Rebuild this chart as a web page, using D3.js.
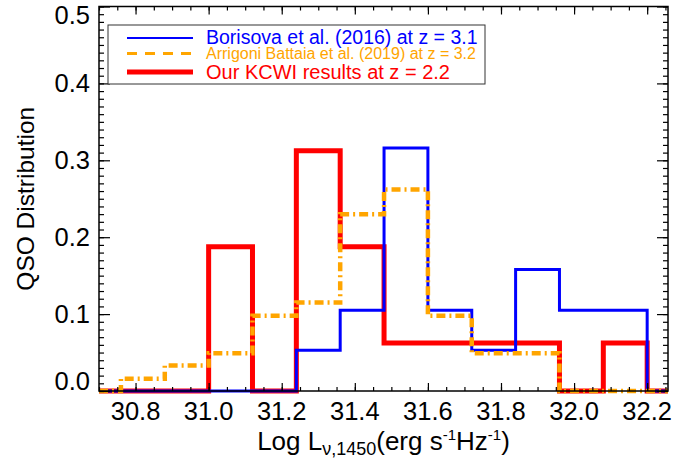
<!DOCTYPE html>
<html>
<head>
<meta charset="utf-8">
<script src="https://cdn.jsdelivr.net/npm/d3@7"></script>
<style>
  html, body { margin: 0; padding: 0; background: #fff; }
  svg { display: block; font-family: "Liberation Sans", Arial, Helvetica, sans-serif; }
</style>
</head>
<body>
<svg id="chart" width="689" height="458"></svg>
<script>
// Histogram bins: left edges, common width
const binStarts = [30.76, 30.88, 31.00, 31.12, 31.24, 31.36, 31.48, 31.60, 31.72, 31.84, 31.96, 32.08];
const binWidth = 0.12;

// Fraction of QSOs per luminosity bin
const borisova = [0, 0, 0, 0, 0.053, 0.105, 0.316, 0.105, 0.053, 0.158, 0.105, 0.105];
const arrigoni = [0.016, 0.033, 0.049, 0.098, 0.115, 0.230, 0.262, 0.098, 0.049, 0.049, 0, 0];
const kcwi     = [0, 0, 0.1875, 0, 0.3125, 0.1875, 0.0625, 0.0625, 0.0625, 0.0625, 0, 0.0625];

// Axis ticks
const xTicks = [30.8, 31.0, 31.2, 31.4, 31.6, 31.8, 32.0, 32.2];
const yTicks = [0.0, 0.1, 0.2, 0.3, 0.4, 0.5];

const legendLabels = [
  "Borisova et al. (2016) at z = 3.1",
  "Arrigoni Battaia et al. (2019) at z = 3.2",
  "Our KCWI results at z = 2.2"
];

const svg = d3.select("#chart");
const plotL = 99, plotR = 668, plotT = 6.5, plotB = 391;
const xDomain = [30.7, 32.257];
const x = d3.scaleLinear().domain(xDomain).range([plotL, plotR]);
const y = d3.scaleLinear().domain([0, 0.5]).range([plotB, plotT]);

// Step outline of a histogram across the full x range
function stepPoints(vals) {
  const pts = [[xDomain[0], 0]];
  binStarts.forEach((b, i) => pts.push([b, vals[i]]));
  pts.push([binStarts[binStarts.length - 1] + binWidth, 0]);
  pts.push([xDomain[1], 0]);
  return pts;
}
const line = d3.line().x(d => x(d[0])).y(d => y(d[1])).curve(d3.curveStepAfter);

const series = [
  { vals: kcwi, color: "#ff0000", width: 5, dash: null },
  { vals: borisova, color: "#0000ff", width: 3, dash: null },
  { vals: arrigoni, color: "#ffa500", width: 4.5, dash: "9,4,2,4" }
];
series.forEach(s => {
  svg.append("path")
    .attr("d", line(stepPoints(s.vals)))
    .attr("fill", "none")
    .attr("stroke", s.color)
    .attr("stroke-width", s.width)
    .attr("stroke-dasharray", s.dash)
    .attr("stroke-linejoin", "miter");
});

// Frame with inward ticks on all four sides
const axisG = svg.append("g");
const xMinor = d3.range(30.7, 32.26, 0.05).filter(v => v >= xDomain[0] - 1e-9 && v <= xDomain[1]);
const yMinor = d3.range(0, 0.5001, 0.01);

function tickLines(g) {
  g.selectAll(".domain").remove();
  g.selectAll("text").remove();
  g.selectAll("line").attr("stroke", "#000").attr("stroke-width", 1.2);
}
// bottom
axisG.append("g").attr("transform", `translate(0,${plotB})`)
  .call(d3.axisTop(x).tickValues(xMinor).tickSize(4)).call(tickLines);
axisG.append("g").attr("transform", `translate(0,${plotB})`)
  .call(d3.axisTop(x).tickValues(xTicks).tickSize(8)).call(tickLines);
// top
axisG.append("g").attr("transform", `translate(0,${plotT})`)
  .call(d3.axisBottom(x).tickValues(xMinor).tickSize(4)).call(tickLines);
axisG.append("g").attr("transform", `translate(0,${plotT})`)
  .call(d3.axisBottom(x).tickValues(xTicks).tickSize(8)).call(tickLines);
// left
axisG.append("g").attr("transform", `translate(${plotL},0)`)
  .call(d3.axisRight(y).tickValues(yMinor).tickSize(5)).call(tickLines);
axisG.append("g").attr("transform", `translate(${plotL},0)`)
  .call(d3.axisRight(y).tickValues(yTicks).tickSize(11)).call(tickLines);
// right
axisG.append("g").attr("transform", `translate(${plotR},0)`)
  .call(d3.axisLeft(y).tickValues(yMinor).tickSize(5)).call(tickLines);
axisG.append("g").attr("transform", `translate(${plotR},0)`)
  .call(d3.axisLeft(y).tickValues(yTicks).tickSize(11)).call(tickLines);

svg.append("rect")
  .attr("x", plotL).attr("y", plotT)
  .attr("width", plotR - plotL).attr("height", plotB - plotT)
  .attr("fill", "none").attr("stroke", "#000").attr("stroke-width", 1.5);

// Tick labels
svg.append("g").selectAll("text").data(xTicks).join("text")
  .attr("x", d => x(d)).attr("y", 420)
  .attr("text-anchor", "middle").attr("font-size", 25.5).attr("fill", "#000")
  .text(d => d.toFixed(1));

svg.append("g").selectAll("text").data(yTicks).join("text")
  .attr("x", 90)
  .attr("y", (d, i) => y(d) + (i === 0 ? -10 : i === yTicks.length - 1 ? 9 : 0))
  .attr("dy", "0.35em")
  .attr("text-anchor", "end").attr("font-size", 25.5).attr("fill", "#000")
  .text(d => d.toFixed(1));

// Axis titles
svg.append("text")
  .attr("transform", `translate(34,${(plotT + plotB) / 2}) rotate(-90)`)
  .attr("text-anchor", "middle").attr("font-size", 24.5).attr("fill", "#000")
  .text("QSO Distribution");

const xt = svg.append("text")
  .attr("x", (plotL + plotR) / 2).attr("y", 450)
  .attr("text-anchor", "middle").attr("font-size", 26).attr("fill", "#000");
xt.append("tspan").text("Log L");
xt.append("tspan").attr("font-size", 18).attr("dy", 5).text("ν,1450");
xt.append("tspan").attr("dy", -5).text("(erg s");
xt.append("tspan").attr("font-size", 15).attr("dy", -10).text("-1");
xt.append("tspan").attr("dy", 10).text("Hz");
xt.append("tspan").attr("font-size", 15).attr("dy", -10).text("-1");
xt.append("tspan").attr("dy", 10).text(")");

// Legend
const lg = svg.append("g");
lg.append("rect").attr("x", 108).attr("y", 25).attr("width", 377).attr("height", 59)
  .attr("fill", "#fff").attr("stroke", "#333").attr("stroke-width", 1);
const legendItems = [
  { label: legendLabels[0], color: "#0000ff", width: 2, dash: null, size: 19.5, ly: 38, base: 44 },
  { label: legendLabels[1], color: "#ffa500", width: 3, dash: "10,8", size: 16, ly: 53.5, base: 59 },
  { label: legendLabels[2], color: "#ff0000", width: 5, dash: null, size: 20, ly: 72, base: 78.5 }
];
legendItems.forEach(it => {
  lg.append("line").attr("x1", 127).attr("x2", 193).attr("y1", it.ly).attr("y2", it.ly)
    .attr("stroke", it.color).attr("stroke-width", it.width).attr("stroke-dasharray", it.dash);
  lg.append("text").attr("x", 206).attr("y", it.base)
    .attr("font-size", it.size).attr("fill", it.color).text(it.label);
});
</script>
</body>
</html>
